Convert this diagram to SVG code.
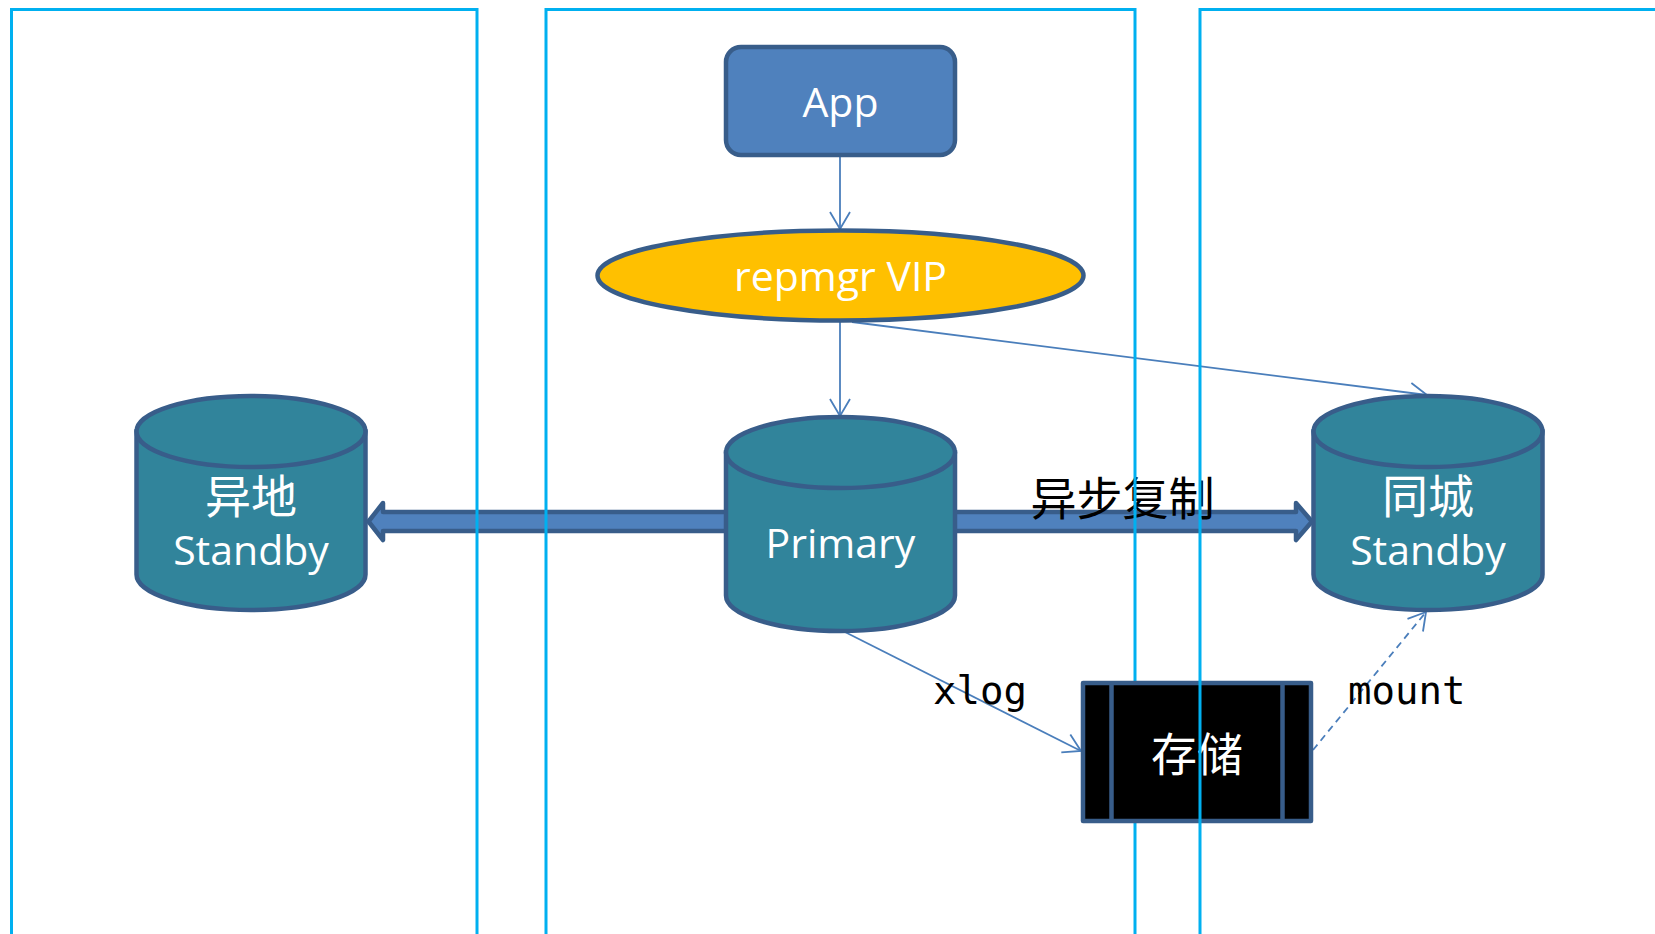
<svg xmlns="http://www.w3.org/2000/svg" width="1655" height="934" viewBox="0 0 1655 934">
  <style>
    .zone { fill: none; stroke: #00B0F0; stroke-width: 3; }
    .link { fill: none; stroke: #4A7EBB; stroke-width: 1.8; }
    .dash { stroke-dasharray: 7 5; }
    .block { fill: #4F81BD; stroke: #385D8A; stroke-width: 4.5; stroke-linejoin: round; }
    .db { fill: #31849B; stroke: #385D8A; stroke-width: 4.5; }
    .lbl { fill: #FFFFFF; font-family: "Open Sans", "Noto Sans", sans-serif; font-size: 41px; text-anchor: middle; }
    .cjk { fill: #FFFFFF; font-family: "Noto Sans CJK SC", sans-serif; font-size: 46px; text-anchor: middle; }
    .note { fill: #000000; font-family: "DejaVu Sans Mono", "Liberation Mono", monospace; font-size: 39px; }
    .note-cjk { fill: #000000; font-family: "Noto Sans CJK SC", sans-serif; font-size: 46px; text-anchor: middle; }
  </style>
  <defs>
    <marker id="open" viewBox="-19 -12 21 24" markerWidth="21" markerHeight="24" refX="0" refY="0" orient="auto" markerUnits="userSpaceOnUse">
      <path d="M-17,-10 L0,0 L-17,10" fill="none" stroke="#4A7EBB" stroke-width="1.8"/>
    </marker>
    <!-- database cylinder, origin at top centre -->
    <g id="cylinder">
      <path class="db" d="M-114.5,35.5 V178.5 A114.5,35.5 0 0 0 114.5,178.5 V35.5 Z"/>
      <ellipse class="db" cx="0" cy="35.5" rx="114.5" ry="35.5"/>
    </g>
  </defs>

  <rect width="1655" height="934" fill="#FFFFFF"/>

  <!-- connectors -->
  <g id="connectors">
    <polygon class="block" points="730,512 383,512 383,503 368.5,521.5 383,540 383,531 730,531"/>
    <polygon class="block" points="950,512 1296,512 1296,503 1312,521.5 1296,540 1296,531 950,531"/>
    <line class="link" x1="840" y1="155" x2="840" y2="229" marker-end="url(#open)"/>
    <line class="link" x1="840" y1="321" x2="840" y2="416" marker-end="url(#open)"/>
    <line class="link" x1="852" y1="322" x2="1427" y2="395" marker-end="url(#open)"/>
    <line class="link" x1="841" y1="630" x2="1081" y2="751" marker-end="url(#open)"/>
    <line class="link dash" x1="1313" y1="750" x2="1426" y2="612" marker-end="url(#open)"/>
    <text class="note-cjk" x="1122.5" y="515">异步复制</text>
    <text class="note" x="933" y="704">xlog</text>
    <text class="note" x="1348" y="704">mount</text>
  </g>

  <!-- site zones -->
  <rect id="zone-remote" class="zone" x="11.5" y="9.5" width="465.5" height="960"/>
  <rect id="zone-main" class="zone" x="546" y="9.5" width="589" height="960"/>

  <g id="app">
    <rect x="726" y="47" width="229" height="108" rx="15" fill="#4F81BD" stroke="#385D8A" stroke-width="4.5"/>
    <text class="lbl" x="840.5" y="117">App</text>
  </g>

  <g id="vip">
    <ellipse cx="840.5" cy="275.5" rx="243" ry="45" fill="#FFC000" stroke="#385D8A" stroke-width="4.5"/>
    <text class="lbl" x="840.5" y="291">repmgr VIP</text>
  </g>

  <g id="standby-remote">
    <use href="#cylinder" transform="translate(251,396)"/>
    <text class="cjk" x="251" y="513">异地</text>
    <text class="lbl" x="251" y="565">Standby</text>
  </g>

  <g id="primary">
    <use href="#cylinder" transform="translate(840.5,417)"/>
    <text class="lbl" x="840.5" y="558">Primary</text>
  </g>

  <g id="standby-local">
    <use href="#cylinder" transform="translate(1428,396)"/>
    <text class="cjk" x="1428" y="513">同城</text>
    <text class="lbl" x="1428" y="565">Standby</text>
  </g>

  <g id="storage">
    <rect x="1083" y="683" width="228" height="138" fill="#000000" stroke="#385D8A" stroke-width="4.5" stroke-linejoin="round"/>
    <line x1="1111.5" y1="683" x2="1111.5" y2="821" stroke="#385D8A" stroke-width="4.5"/>
    <line x1="1282.5" y1="683" x2="1282.5" y2="821" stroke="#385D8A" stroke-width="4.5"/>
    <text class="cjk" x="1197" y="771">存储</text>
  </g>

  <rect id="zone-local" class="zone" x="1200" y="9.5" width="600" height="960"/>
</svg>
